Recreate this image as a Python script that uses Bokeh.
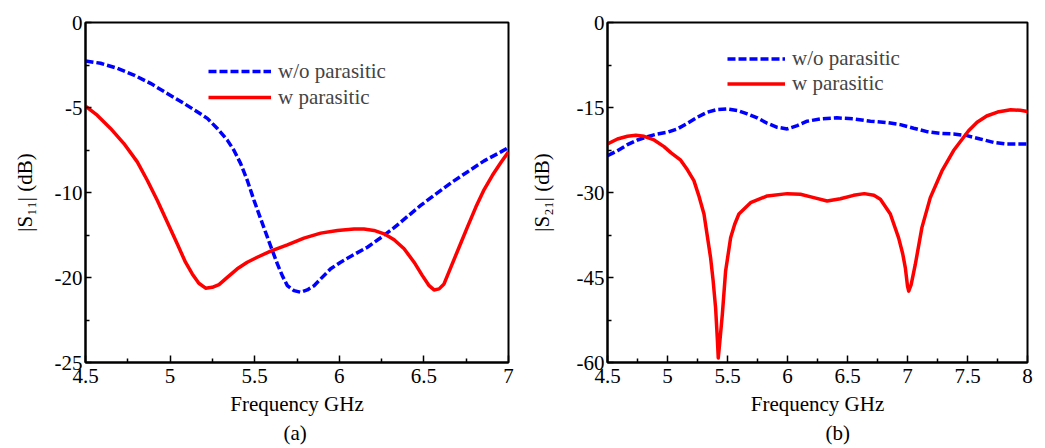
from bokeh.plotting import figure
from bokeh.layouts import row
from bokeh.models import Range1d, FixedTicker, Legend, LegendItem, Title
from bokeh.embed import file_html
from bokeh.resources import INLINE

# ---------------- data ----------------
# (a) |S11| ; y positions follow the plotted axis scale (labels 0,-5,-10,-20,-25 at equal steps)
s11_freq_wo = [4.5, 4.589, 4.687, 4.786, 4.884, 4.983, 5.082, 5.16, 5.22, 5.279, 5.338,
               5.377, 5.417, 5.456, 5.496, 5.535, 5.575, 5.604, 5.634, 5.663, 5.693,
               5.732, 5.772, 5.811, 5.851, 5.89, 5.949, 6.008, 6.087, 6.166, 6.245,
               6.324, 6.403, 6.481, 6.56, 6.659, 6.757, 6.856, 6.955, 7.0]
s11_wo = [-2.26, -2.40, -2.69, -3.09, -3.58, -4.17, -4.76, -5.25, -5.64, -6.23, -6.92,
          -7.51, -8.30, -9.28, -10.46, -11.54, -12.63, -13.41, -14.2, -14.89, -15.48,
          -15.77, -15.87, -15.73, -15.48, -15.08, -14.49, -14.1, -13.65, -13.22, -12.66,
          -12.07, -11.41, -10.76, -10.17, -9.44, -8.79, -8.14, -7.61, -7.35]
s11_freq_w = [4.5, 4.569, 4.648, 4.727, 4.806, 4.865, 4.924, 4.983, 5.042, 5.091, 5.131,
              5.17, 5.21, 5.249, 5.289, 5.338, 5.397, 5.456, 5.515, 5.594, 5.693, 5.791,
              5.89, 5.989, 6.087, 6.146, 6.205, 6.265, 6.324, 6.383, 6.442, 6.491, 6.531,
              6.56, 6.59, 6.619, 6.659, 6.708, 6.757, 6.807, 6.856, 6.905, 6.955, 7.0]
s11_w = [-4.92, -5.45, -6.23, -7.12, -8.2, -9.28, -10.46, -11.74, -13.02, -14.1, -14.79,
         -15.34, -15.63, -15.58, -15.42, -14.99, -14.49, -14.1, -13.81, -13.45, -13.08,
         -12.68, -12.39, -12.23, -12.15, -12.15, -12.23, -12.43, -12.78, -13.31, -14.1,
         -14.89, -15.48, -15.73, -15.67, -15.38, -14.4, -13.22, -12.04, -10.86, -9.83,
         -8.99, -8.24, -7.61]

# (b) |S21|
s21_freq_wo = [4.5, 4.583, 4.666, 4.75, 4.833, 4.916, 4.999, 5.082, 5.166, 5.249, 5.332,
               5.415, 5.498, 5.582, 5.665, 5.748, 5.831, 5.914, 5.997, 6.081, 6.164,
               6.275, 6.413, 6.552, 6.691, 6.829, 6.94, 7.051, 7.162, 7.273, 7.384,
               7.495, 7.606, 7.717, 7.828, 7.939, 8.0]
s21_wo = [-23.51, -22.62, -21.56, -20.73, -20.14, -19.67, -19.37, -18.78, -17.78, -16.72,
          -15.83, -15.36, -15.24, -15.53, -16.13, -16.83, -17.78, -18.49, -18.78, -18.19,
          -17.42, -17.01, -16.83, -17.01, -17.42, -17.66, -18.02, -18.66, -19.26, -19.55,
          -19.67, -19.96, -20.56, -21.15, -21.44, -21.44, -21.44]
s21_freq_w = [4.5, 4.583, 4.666, 4.736, 4.805, 4.888, 4.971, 5.03, 5.11, 5.166, 5.22,
              5.26, 5.304, 5.359, 5.38, 5.401, 5.415, 5.423, 5.434, 5.457, 5.484, 5.526,
              5.56, 5.595, 5.692, 5.831, 5.998, 6.108, 6.219, 6.33, 6.441, 6.55, 6.64,
              6.72, 6.774, 6.857, 6.926, 6.96, 6.982, 7.0, 7.01, 7.03, 7.065, 7.12, 7.19,
              7.287, 7.384, 7.509, 7.58, 7.66, 7.75, 7.86, 7.94, 8.0]
s21_w = [-21.44, -20.56, -20.08, -19.91, -20.08, -20.73, -21.9, -23.0, -24.3, -26.0,
         -27.9, -30.5, -33.8, -41.5, -45.5, -50.4, -55.7, -59.2, -56.8, -51.5, -43.9,
         -38.0, -35.6, -33.8, -31.8, -30.6, -30.2, -30.3, -30.9, -31.5, -31.1, -30.5,
         -30.2, -30.5, -31.2, -33.8, -38.0, -40.8, -43.3, -46.5, -47.4, -46.3, -42.7,
         -36.2, -30.9, -26.2, -22.6, -19.1, -17.6, -16.5, -15.8, -15.4, -15.5, -15.7]

series_labels = ["w/o parasitic", "w parasitic"]
x_label = "Frequency GHz"
y_label_a = "|S\u2081\u2081| (dB)"
y_label_b = "|S\u2082\u2081| (dB)"
captions = ["(a)", "(b)"]

FONT = "Liberation Serif"
FS = "21px"
BLUE = "#0000FF"
RED = "#FF0000"


def style(p, xmajor, xminor, ymajor, yminor, yover=None):
    p.xaxis.ticker = FixedTicker(ticks=xmajor, minor_ticks=xminor)
    p.yaxis.ticker = FixedTicker(ticks=ymajor, minor_ticks=yminor)
    p.xaxis.major_label_overrides = {v: ("%g" % v) for v in xmajor}
    ov = {v: ("%g" % v) for v in ymajor}
    if yover:
        ov.update(yover)
    p.yaxis.major_label_overrides = ov
    p.xgrid.visible = False
    p.ygrid.visible = False
    for ax in (p.xaxis, p.yaxis):
        ax.axis_line_width = 2
        ax.axis_line_color = "black"
        ax.major_tick_out = 0
        ax.minor_tick_out = 0
        ax.major_tick_line_width = 1.5
        ax.minor_tick_line_width = 1.5
        ax.major_tick_line_color = "black"
        ax.minor_tick_line_color = "black"
        ax.major_label_text_font = FONT
        ax.major_label_text_font_size = FS
        ax.major_label_text_color = "black"
        ax.axis_label_text_font = FONT
        ax.axis_label_text_font_size = FS
        ax.axis_label_text_font_style = "normal"
        ax.axis_label_text_color = "black"
    p.xaxis.major_tick_in = 7
    p.xaxis.minor_tick_in = 4
    p.yaxis.major_tick_in = 6
    p.yaxis.minor_tick_in = 4
    p.xaxis.major_label_standoff = 6
    p.yaxis.major_label_standoff = 3
    p.xaxis.axis_label_standoff = 6
    p.outline_line_color = "black"
    p.outline_line_width = 2
    p.outline_line_alpha = 1


def caption(p, text, offset):
    p.add_layout(Title(text=text, align="left", offset=offset, standoff=0,
                       text_font=FONT, text_font_size=FS, text_font_style="normal",
                       text_color="black"), "below")


# ---------------- (a) ----------------
p1 = figure(width=520, height=446, output_backend="svg", toolbar_location=None,
            x_range=Range1d(4.5, 7), y_range=Range1d(-20, 0),
            min_border_left=85, min_border_right=12, min_border_top=22,
            min_border_bottom=84, x_axis_label=x_label, y_axis_label=y_label_a)
style(p1, [4.5, 5, 5.5, 6, 6.5, 7], [4.75, 5.25, 5.75, 6.25, 6.75],
      [0, -5, -10, -15, -20], [-2.5, -7.5, -12.5, -17.5], {-15: "-20", -20: "-25"})
p1.yaxis.axis_label_standoff = 15
r1a = p1.line(s11_freq_wo, s11_wo, line_color=BLUE, line_width=3.5, line_dash="8 3")
r1b = p1.line(s11_freq_w, s11_w, line_color=RED, line_width=3.5, line_join="round")
leg1 = Legend(items=[LegendItem(label=series_labels[0], renderers=[r1a]),
                     LegendItem(label=series_labels[1], renderers=[r1b])],
              location=(123, 252), padding=0, margin=0, spacing=0,
              glyph_width=63, glyph_height=26, label_height=26, label_standoff=7,
              label_text_font=FONT, label_text_font_size=FS,
              border_line_color=None, background_fill_alpha=0)
p1.add_layout(leg1, "center")
caption(p1, captions[0], 198)

# ---------------- (b) ----------------
p2 = figure(width=517, height=446, output_backend="svg", toolbar_location=None,
            x_range=Range1d(4.5, 8), y_range=Range1d(-60, 0),
            min_border_left=87, min_border_right=10, min_border_top=22,
            min_border_bottom=84, x_axis_label=x_label, y_axis_label=y_label_b)
style(p2, [4.5, 5, 5.5, 6, 6.5, 7, 7.5, 8], [4.75, 5.25, 5.75, 6.25, 6.75, 7.25, 7.75],
      [0, -15, -30, -45, -60], [-7.5, -22.5, -37.5, -52.5])
p2.yaxis.axis_label_standoff = 20
r2a = p2.line(s21_freq_wo, s21_wo, line_color=BLUE, line_width=3.5, line_dash="8 3")
r2b = p2.line(s21_freq_w, s21_w, line_color=RED, line_width=3.5, line_join="round")
leg2 = Legend(items=[LegendItem(label=series_labels[0], renderers=[r2a]),
                     LegendItem(label=series_labels[1], renderers=[r2b])],
              location=(120, 266), padding=0, margin=0, spacing=0,
              glyph_width=58, glyph_height=23, label_height=23, label_standoff=7,
              label_text_font=FONT, label_text_font_size=FS,
              border_line_color=None, background_fill_alpha=0)
p2.add_layout(leg2, "center")
caption(p2, captions[1], 218)

layout = row(p1, p2)
open("out.html", "w").write(file_html(layout, INLINE))
